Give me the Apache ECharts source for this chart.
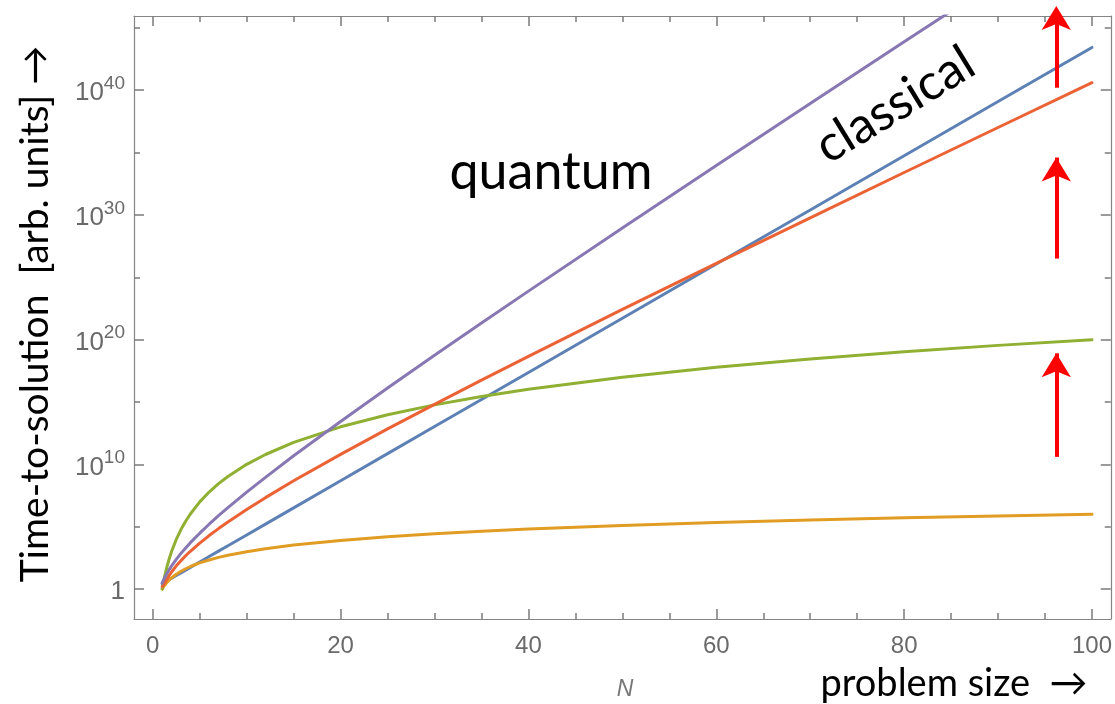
<!DOCTYPE html>
<html>
<head>
<meta charset="utf-8">
<script src="https://cdn.jsdelivr.net/npm/echarts@6/dist/echarts.min.js"></script>
<style>
html,body{margin:0;padding:0;background:#fff;}
#chart{width:1115px;height:704px;}
</style>
</head>
<body>
<div id="chart"></div>
<script>
// problem size N
const N = [1, 1.1, 1.25, 1.5, 1.75, 2, 2.5, 3, 3.5, 4, 5, 6, 7, 8, 10, 12, 15, 20, 25, 30, 35, 40, 50, 60, 70, 80, 90, 100];
// log10 of time-to-solution
const blueLog   = [0.43, 0.48, 0.54, 0.65, 0.76, 0.87, 1.09, 1.30, 1.52, 1.74, 2.17, 2.61, 3.04, 3.47, 4.34, 5.21, 6.51, 8.69, 10.86, 13.03, 15.20, 17.37, 21.71, 26.06, 30.40, 34.74, 39.09, 43.43];
const orangeLog = [0.00, 0.12, 0.29, 0.53, 0.73, 0.90, 1.19, 1.43, 1.63, 1.81, 2.10, 2.33, 2.54, 2.71, 3.00, 3.24, 3.53, 3.90, 4.19, 4.43, 4.63, 4.81, 5.10, 5.33, 5.54, 5.71, 5.86, 6.00];
const greenLog  = [0.00, 0.41, 0.97, 1.76, 2.43, 3.01, 3.98, 4.77, 5.44, 6.02, 6.99, 7.78, 8.45, 9.03, 10.00, 10.79, 11.76, 13.01, 13.98, 14.77, 15.44, 16.02, 16.99, 17.78, 18.45, 19.03, 19.54, 20.00];
const redLog    = [0.20, 0.30, 0.45, 0.80, 1.10, 1.37, 1.86, 2.28, 2.67, 3.03, 3.69, 4.29, 4.85, 5.38, 6.38, 7.33, 8.68, 10.80, 12.84, 14.81, 16.75, 18.66, 22.42, 26.12, 29.77, 33.40, 37.01, 40.60];
const purpleLog = [0.48, 0.65, 0.89, 1.24, 1.56, 1.86, 2.38, 2.86, 3.30, 3.72, 4.48, 5.20, 5.88, 6.53, 7.77, 8.96, 10.69, 13.44, 16.12, 18.74, 21.33, 23.89, 28.95, 33.96, 38.94, 43.88, 48.80, 53.71];
// tick positions
const xMajor = [0, 20, 40, 60, 80, 100];
const xMinor = [5, 10, 15, 25, 30, 35, 45, 50, 55, 65, 70, 75, 85, 90, 95];
const yMajor = [0, 10, 20, 30, 40];
const yMinor = [5, 15, 25, 35, 45];
// red arrows: [N, log10 start, log10 end]
const arrows = [[96.2, 10.6, 18.9], [96.2, 26.5, 34.6]];
const topArrow = [96.2, 40.2, 45.95];

const chart = echarts.init(document.getElementById('chart'), null, {renderer: 'canvas'});
const frame = '#858585';
const tickColor = '#7a7a7a';
const labelColor = '#6a6a6a';
const X = [-2, 102], Y = [-2.4, 45.95];
const G = {left: 134, right: 3, top: 16, bottom: 85};
const plotW = 1115 - G.left - G.right, plotH = 704 - G.top - G.bottom;
const dxPerPx = (X[1] - X[0]) / plotW, dyPerPx = (Y[1] - Y[0]) / plotH;

function xAx(pos, labels) {
  return {
    type: 'value', position: pos, min: X[0], max: X[1],
    axisLine: {show: true, onZero: false, lineStyle: {color: frame, width: 1.2}},
    splitLine: {show: false},
    axisTick: {show: false},
    axisLabel: labels ? {show: true, customValues: xMajor, color: labelColor, fontSize: 24, fontFamily: 'Liberation Sans', margin: 15} : {show: false}
  };
}
function yAx(pos, labels) {
  return {
    type: 'value', position: pos, min: Y[0], max: Y[1],
    axisLine: {show: true, onZero: false, lineStyle: {color: frame, width: 1.2}},
    splitLine: {show: false},
    axisTick: {show: false},
    axisLabel: labels ? {
      show: true, customValues: yMajor, margin: 9,
      formatter: v => v === 0 ? '{b|1}' : '{b|10}{s|' + v + '}',
      rich: {
        b: {fontSize: 26, color: labelColor, fontFamily: 'Liberation Sans', lineHeight: 32, verticalAlign: 'bottom'},
        s: {fontSize: 19, color: labelColor, fontFamily: 'Liberation Sans', lineHeight: 32, verticalAlign: 'top', padding: [0, 0, 13, 0]}
      }
    } : {show: false}
  };
}

function mk(name, color, vals) {
  return {
    name, type: 'line', xAxisIndex: 0, yAxisIndex: 0,
    data: N.map((n, i) => [n, vals[i]]),
    showSymbol: false, symbol: 'none', smooth: false,
    lineStyle: {color, width: 3, join: 'round', cap: 'round'}, clip: true, animation: false
  };
}

function arrowSeries(list, endOffset) {
  return {
    type: 'line', xAxisIndex: 0, yAxisIndex: 0, clip: false,
    data: [[list[0][0], list[0][1]]], symbol: 'none', lineStyle: {opacity: 0}, animation: false,
    markLine: {
      silent: true, animation: false,
      symbol: ['none', 'arrow'], symbolSize: [22, 24], symbolOffset: [0, [0, endOffset]],
      label: {show: false},
      lineStyle: {color: '#ff0000', width: 4, type: 'solid'},
      data: list.map(a => [{coord: [a[0], a[1]]}, {coord: [a[0], a[2]]}])
    }
  };
}

// inward frame ticks on all four sides, placed through the axis scales
function xTicks(vals, lenPx) {
  const out = [];
  vals.forEach(v => {
    out.push([{coord: [v, Y[0]]}, {coord: [v, Y[0] + lenPx * dyPerPx]}]);
    out.push([{coord: [v, Y[1]]}, {coord: [v, Y[1] - lenPx * dyPerPx]}]);
  });
  return out;
}
function yTicks(vals, lenPx) {
  const out = [];
  vals.forEach(v => {
    out.push([{coord: [X[0], v]}, {coord: [X[0] + lenPx * dxPerPx, v]}]);
    out.push([{coord: [X[1], v]}, {coord: [X[1] - lenPx * dxPerPx, v]}]);
  });
  return out;
}
const tickSeries = {
  type: 'line', xAxisIndex: 0, yAxisIndex: 0, clip: false, silent: true,
  data: [[0, 0]], symbol: 'none', lineStyle: {opacity: 0}, animation: false,
  markLine: {
    silent: true, animation: false, symbol: ['none', 'none'], precision: 6,
    label: {show: false},
    lineStyle: {color: tickColor, width: 1.5, type: 'solid', opacity: 1},
    emphasis: {disabled: true},
    data: [].concat(xTicks(xMajor, 10), xTicks(xMinor, 6), yTicks(yMajor, 10), yTicks(yMinor, 6))
  }
};

const option = {
  backgroundColor: '#ffffff',
  animation: false,
  grid: {left: G.left, right: G.right, top: G.top, bottom: G.bottom, containLabel: false},
  xAxis: [xAx('bottom', true), xAx('top', false)],
  yAxis: [yAx('left', true), yAx('right', false)],
  series: [
    tickSeries,
    mk('blue', '#5E81B5', blueLog),
    mk('orange', '#E19C24', orangeLog),
    mk('green', '#8FB032', greenLog),
    mk('red', '#EB6235', redLog),
    mk('purple', '#8778B3', purpleLog),
    arrowSeries(arrows, 0),
    arrowSeries([topArrow], -10)
  ],
  graphic: [
    {type: 'text', x: 551, y: 172, style: {text: 'quantum', font: '52px Lato', fill: '#000', align: 'center', verticalAlign: 'middle'}},
    {type: 'text', x: 895, y: 105, rotation: 0.55, style: {text: 'classical', font: '50px Lato', fill: '#000', align: 'center', verticalAlign: 'middle'}},
    {type: 'text', x: 35, y: 314, rotation: Math.PI / 2, style: {text: 'Time-to-solution  [arb. units] \u2192', font: '39px Lato', fill: '#000', align: 'center', verticalAlign: 'middle'}},
    {type: 'text', x: 954, y: 684, style: {text: 'problem size  \u2192', font: '38px Lato', fill: '#000', align: 'center', verticalAlign: 'middle'}},
    {type: 'text', x: 625, y: 690, style: {text: 'N', font: 'italic 23px "Liberation Sans"', fill: '#777', align: 'center', verticalAlign: 'middle'}}
  ]
};
chart.setOption(option);
</script>
</body>
</html>
